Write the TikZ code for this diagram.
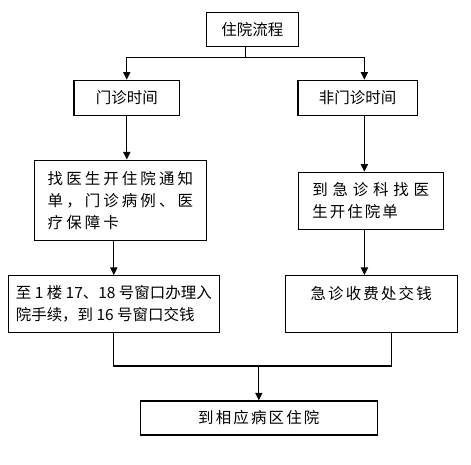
\documentclass[tikz,border=0pt]{standalone}
\usepackage{fontspec}
\setmainfont{Noto Sans CJK SC}
\usetikzlibrary{arrows.meta,calc}
\tikzset{
    every node/.append style={align=left},
    box/.style={rectangle,draw=black,line width=0.9pt,inner sep=0pt,
        font=\fontsize{11}{15.6}\selectfont},
    arr/.style={-{Triangle[length=1.9mm,width=1.8mm]},line width=0.9pt},
    link/.style={line width=0.9pt}
}
\newcommand{\spaced}[2]{{\addfontfeature{LetterSpace=#1}#2}}

\begin{document}
\begin{tikzpicture}
    \useasboundingbox[fill=white] (0,0) rectangle (11.775,-11.6);
    % top
    \node[box,minimum width=2.3cm,minimum height=0.85cm]     (start)  at (6.31,-0.73)  {住院流程};
    \node[box,minimum width=2.64cm,minimum height=0.875cm]   (clinic) at (3.17,-2.445) {门诊时间};
    \node[box,minimum width=2.98cm,minimum height=0.875cm]   (emerg)  at (8.94,-2.445) {非门诊时间};
    % steps
    \node[box,minimum width=4.3cm,minimum height=2.0cm]      (notice) at (3.01,-5.005) {\spaced{20}{找医生开住院通知}\\\spaced{20}{单，门诊病例、医}\\\spaced{20}{疗保障卡}};
    \node[box,minimum width=3.625cm,minimum height=1.425cm]  (emdoc)  at (9.27,-5.02)  {\spaced{31}{到急诊科找医}\\\spaced{13}{生开住院单}};
    \node[box,minimum width=5.275cm,minimum height=1.415cm]  (admit)  at (2.845,-7.6)  {至 1 楼 17、18 号窗口办理入\\院手续，到 16 号窗口交钱};
    \node[box,minimum width=4.3cm,minimum height=1.415cm]    (pay)    at (9.28,-7.6)   {\spaced{14}{急诊收费处交钱}\\\mbox{}};
    % end
    \node[box,minimum width=5.925cm,minimum height=0.85cm]   (ward)   at (6.47,-10.45) {\spaced{14}{到相应病区住院}};

    \coordinate (split)  at (6.13,-1.43);
    \coordinate (rcol)   at (9.11,-1.43);
    \coordinate (merge)  at (6.47,-9.15);
    \coordinate (rmerge) at (9.78,-9.15);

    \draw[link] (start.south -| split) -- (split);
    \draw[arr]  (split) -| (clinic.north);
    \draw[arr]  (split) -| (emerg.north -| rcol);
    \draw[arr]  (clinic.south) -- (notice.north -| clinic.south);
    \draw[arr]  (notice.south -| admit.north) -- (admit.north);
    \draw[arr]  (emerg.south -| rcol) -- (emdoc.north -| rcol);
    \draw[arr]  (emdoc.south -| rcol) -- (pay.north -| rcol);
    \draw[link] (admit.south) |- (merge);
    \draw[link] (pay.south -| rmerge) -- (rmerge) -- (merge);
    \draw[arr]  (merge) -- (ward.north);
\end{tikzpicture}
\end{document}
